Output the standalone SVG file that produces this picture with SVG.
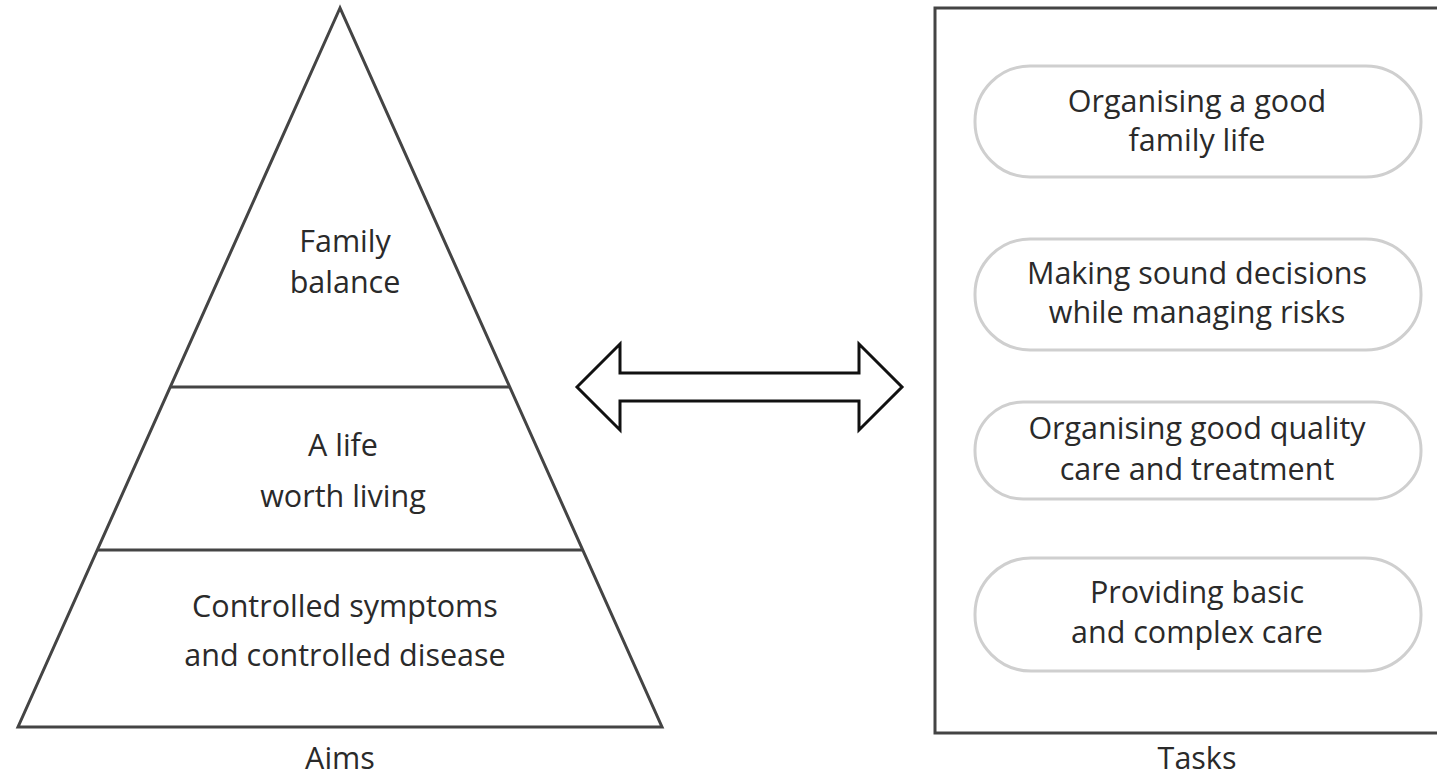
<svg xmlns="http://www.w3.org/2000/svg" width="1437" height="777" viewBox="0 0 1437 777">
<style>
.t{font-family:"Open Sans","Liberation Sans",sans-serif;font-size:30.5px;fill:#2a2a2a;text-anchor:middle}
.ln{stroke:#444;stroke-width:3;fill:none}
.pill{fill:#fff;stroke:#cfcfcf;stroke-width:3}
</style>
<rect width="1437" height="777" fill="#fff"/>
<g id="pyramid">
<polygon class="ln" points="340,8 18,727 662,727"/>
<line class="ln" x1="171" y1="387" x2="509" y2="387"/>
<line class="ln" x1="98" y1="550" x2="582" y2="550"/>
</g>
<g id="aim-top"><text class="t" x="345" y="252">Family</text><text class="t" x="345" y="293">balance</text></g>
<g id="aim-mid"><text class="t" x="343" y="456">A life</text><text class="t" x="343" y="507">worth living</text></g>
<g id="aim-base"><text class="t" x="345" y="617">Controlled symptoms</text><text class="t" x="345" y="666">and controlled disease</text></g>
<g id="aims-label"><text class="t" x="340" y="769">Aims</text></g>
<g id="connectors">
<polygon points="577,387 620,344 620,373 859,373 859,344 902,387 859,430 859,401 620,401 620,430" fill="#fff" stroke="#111" stroke-width="3" stroke-linejoin="miter"/>
</g>
<g id="tasks-box"><rect x="935" y="8" width="520" height="725" fill="none" stroke="#444" stroke-width="3"/></g>
<g id="task1"><rect class="pill" x="975" y="66" width="446" height="111" rx="55"/><text class="t" x="1197" y="112">Organising a good</text><text class="t" x="1197" y="151">family life</text></g>
<g id="task2"><rect class="pill" x="975" y="239" width="446" height="111" rx="55"/><text class="t" x="1197" y="284">Making sound decisions</text><text class="t" x="1197" y="323">while managing risks</text></g>
<g id="task3"><rect class="pill" x="975" y="402" width="446" height="97" rx="48"/><text class="t" x="1197" y="439">Organising good quality</text><text class="t" x="1197" y="480">care and treatment</text></g>
<g id="task4"><rect class="pill" x="975" y="558" width="446" height="113" rx="56"/><text class="t" x="1197" y="603">Providing basic</text><text class="t" x="1197" y="643">and complex care</text></g>
<g id="tasks-label"><text class="t" x="1197" y="769">Tasks</text></g>
</svg>
